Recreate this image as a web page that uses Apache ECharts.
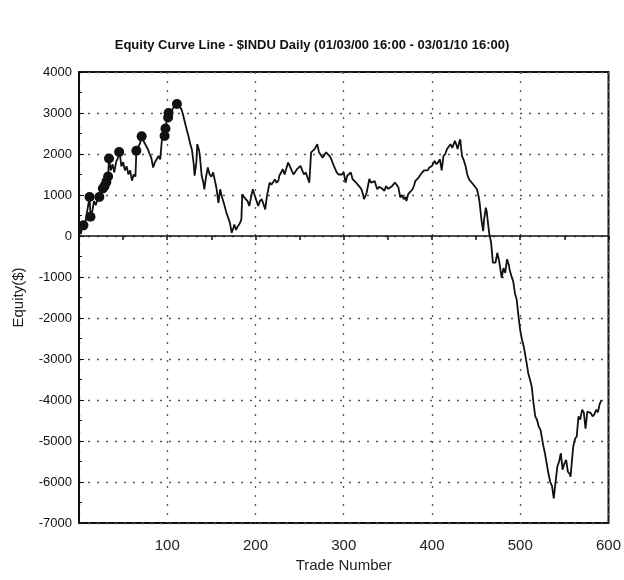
<!DOCTYPE html>
<html>
<head>
<meta charset="utf-8">
<script src="https://cdn.jsdelivr.net/npm/echarts@6/dist/echarts.min.js"></script>
<style>
html,body{margin:0;padding:0;background:#fff;}
#chart{width:624px;height:580px;}
</style>
</head>
<body>
<div id="chart"></div>
<script>
// Trade numbers and equity values
var tradeNumbers = [0,2,4,6,8,10,12,13,15,17,19,21,23,25,27,29,31,33,34,36,38,40,42,44,46,48,50,52,54,56,58,60,62,64,65,67,69,71,74,76,78,80,82,84,86,88,90,92,94,97,98,100,102,104,106,108,111,113,116,118,120,122,124,126,128,130,131,133,134,136,137,139,141,142,144,146,148,150,152,154,156,158,160,162,164,167,169,171,173,175,176,178,180,182,184,185,187,189,191,193,195,197,199,201,203,205,207,209,211,213,216,218,220,222,224,226,227,229,231,233,235,237,239,241,243,245,247,249,251,253,255,257,259,261,263,265,267,270,272,274,276,278,280,282,284,286,288,290,292,294,296,298,300,302,304,306,308,310,312,314,316,318,320,322,323,325,326,329,331,333,335,337,338,340,342,344,346,348,350,352,354,356,358,360,362,364,366,368,370,371,373,375,378,380,381,383,385,387,389,391,393,395,397,399,400,402,403,405,407,409,411,413,415,417,419,421,423,424,426,428,429,431,432,434,436,438,440,442,444,445,447,449,451,453,454,456,458,459,461,462,463,465,467,469,471,472,474,476,477,479,481,483,485,487,488,490,492,494,496,498,500,502,504,506,508,509,511,513,515,517,519,521,523,526,528,530,532,534,536,538,540,542,544,546,548,550,552,554,556,557,560,562,564,566,568,570,572,574,576,578,580,582,584,586,588,590,592];
var equity = [200,50,260,150,450,700,950,470,600,850,750,900,950,1080,1160,1220,1320,1450,1890,1600,1750,1550,1800,1900,2050,1700,1800,1600,1700,1500,1600,1350,1500,1450,2080,2050,2250,2430,2280,2200,2120,2000,1900,1670,1800,1870,1950,1870,2360,2440,2620,2890,3000,2950,3100,3150,3220,3200,3100,2950,2770,2600,2440,2250,2100,1750,1470,1800,2240,2100,1950,1470,1300,1140,1450,1670,1500,1450,1550,1350,1140,810,1140,950,810,570,450,320,80,200,280,150,240,300,400,1020,950,980,850,730,950,1140,1000,980,730,850,900,780,650,980,1300,1250,1220,1380,1300,1350,1470,1550,1630,1500,1650,1790,1700,1670,1500,1470,1630,1600,1710,1600,1500,1550,1550,1300,2040,2000,2120,2240,2040,2000,1910,1950,2040,2080,1950,1870,1750,1710,1550,1500,1470,1500,1550,1300,1470,1500,1550,1390,1400,1300,1300,1200,1140,1000,900,1000,1060,1390,1300,1260,1340,1200,1140,1200,1180,1150,1100,1220,1150,1140,1200,1220,1300,1250,1180,940,1000,900,950,850,1020,1050,1140,1250,1340,1350,1430,1500,1550,1600,1630,1600,1670,1650,1710,1700,1830,1750,1800,1870,1600,1950,2000,2120,2150,2240,2150,2120,2320,2200,2120,2300,2360,1950,1850,1710,1500,1380,1330,1300,1250,1220,1140,950,810,400,120,400,690,600,400,40,-160,-650,-690,-650,-410,-600,-740,-1020,-780,-900,-570,-700,-820,-980,-1100,-1400,-1550,-1960,-2300,-2530,-2700,-2940,-3200,-3340,-3500,-3670,-4070,-4400,-4484,-4650,-4730,-5100,-5300,-5550,-5800,-6000,-6100,-6400,-6000,-5630,-5500,-5300,-5700,-5550,-5460,-5750,-5800,-5870,-5140,-4950,-4890,-4400,-4480,-4240,-4300,-4700,-4280,-4240,-4320,-4400,-4350,-4240,-4300,-4100,-4000];
// New-high markers (black dots)
var markerTrades = [5,12,13,23,27,29,31,33,34,45.5,65,71,97,98,101,101.5,111];
var markerEquity = [260,950,470,950,1160,1220,1320,1450,1890,2050,2080,2430,2440,2620,2890,3000,3220];
var xTickLabels = ['100','200','300','400','500','600'];
var yTickValues = [4000,3000,2000,1000,0,-1000,-2000,-3000,-4000,-5000,-6000,-7000];

var lineData = tradeNumbers.map(function(t,i){return [t, equity[i]];});
var markerData = markerTrades.map(function(t,i){return [t, markerEquity[i]];});

var chart = echarts.init(document.getElementById('chart'), null, {renderer:'canvas'});
var font = 'Liberation Sans, Arial, Helvetica, sans-serif';
chart.setOption({
  animation:false,
  backgroundColor:'#fff',
  title:{
    text:'Equity Curve Line - $INDU Daily (01/03/00 16:00 - 03/01/10 16:00)',
    left:'center', top:34,
    textStyle:{fontFamily:font, fontSize:13, fontWeight:'bold', color:'#111'}
  },
  grid:{left:79, right:12, top:72, bottom:57, show:true, borderColor:'#111', borderWidth:2, backgroundColor:'transparent'},
  xAxis:[{
    type:'value', min:0, max:600, interval:100, position:'bottom',
    name:'Trade Number', nameLocation:'middle', nameGap:35,
    nameTextStyle:{fontFamily:font, fontSize:15, color:'#222'},
    axisLine:{show:false, onZero:false},
    axisTick:{show:false},
    axisLabel:{fontFamily:font, fontSize:15, color:'#222', margin:15,
      formatter:function(v){ var s=String(v); return xTickLabels.indexOf(s)>=0 ? s : ''; }},
    splitLine:{show:true, lineStyle:{color:'#555', width:1.3, type:[2,7]}}
  },{
    type:'value', min:0, max:600, interval:50, position:'top',
    axisLine:{show:true, onZero:true, lineStyle:{color:'#111', width:1.5}},
    axisTick:{show:true, inside:true, length:4, lineStyle:{color:'#111', width:1.5}},
    axisLabel:{show:false},
    splitLine:{show:false}
  }],
  yAxis:{
    type:'value', min:-7000, max:4000, interval:1000,
    name:'Equity($)', nameLocation:'middle', nameGap:53, nameRotate:90,
    nameTextStyle:{fontFamily:font, fontSize:15, color:'#222'},
    axisLine:{show:true, lineStyle:{color:'#111', width:2}},
    axisTick:{show:true, inside:true, length:5, lineStyle:{color:'#111'}},
    minorTick:{show:true, splitNumber:2, length:3, lineStyle:{color:'#111'}},
    axisLabel:{fontFamily:font, fontSize:13, color:'#111', margin:7,
      formatter:function(v){ return yTickValues.indexOf(v)>=0 ? String(v) : ''; }},
    splitLine:{show:true, lineStyle:{color:'#555', width:1.3, type:[2,7]}}
  },
  series:[{
    type:'line', xAxisIndex:0, data:lineData, showSymbol:false, symbol:'none',
    lineStyle:{color:'#111', width:1.8}, z:3
  },{
    type:'scatter', xAxisIndex:0, data:markerData, symbol:'circle', symbolSize:10,
    itemStyle:{color:'#111', opacity:1}, z:4
  }]
});
</script>
</body>
</html>
